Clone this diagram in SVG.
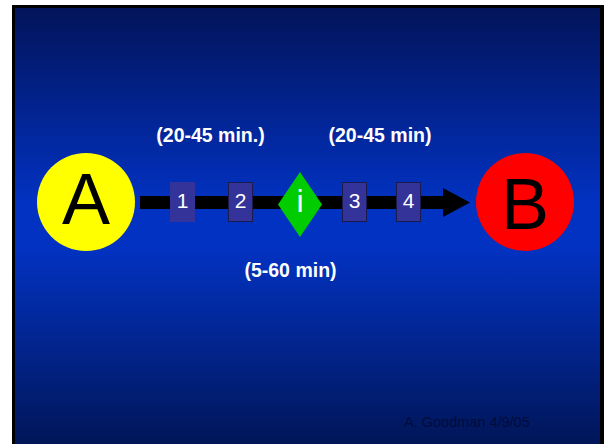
<svg xmlns="http://www.w3.org/2000/svg" width="604" height="444" viewBox="0 0 604 444">
<defs>
<linearGradient id="bg" x1="0" y1="0" x2="0" y2="1">
<stop offset="0" stop-color="#02145a"/>
<stop offset="0.45" stop-color="#0232c2"/>
<stop offset="0.55" stop-color="#0232c2"/>
<stop offset="1" stop-color="#011658"/>
</linearGradient>
<style>
.lbl{font-family:"Liberation Sans",Arial,sans-serif;font-weight:bold;font-size:19.5px;fill:#ffffff;text-anchor:middle}
.num{font-family:"Liberation Sans",Arial,sans-serif;font-size:21px;fill:#ffffff;text-anchor:middle}
.big{font-family:"Liberation Sans",Arial,sans-serif;font-size:72px;fill:#000000;text-anchor:middle}
.box{fill:#333399}
.boxb{fill:#333399;stroke:#1a1a4d;stroke-width:1}
</style>
</defs>
<rect x="0" y="0" width="604" height="444" fill="#ffffff"/>
<rect x="12" y="5" width="592" height="439" fill="#000000"/>
<rect x="15" y="8" width="585" height="436" fill="url(#bg)"/>
<g id="connectors">
<rect x="140" y="196" width="304" height="13" fill="#000000"/>
<polygon points="443,188 470,202.5 443,217" fill="#000000"/>
</g>
<g id="nodeA">
<circle cx="86" cy="202" r="49" fill="#ffff00"/>
<text class="big" x="86" y="224">A</text>
</g>
<g id="nodeB">
<circle cx="525" cy="202" r="49" fill="#ff0000"/>
<text class="big" x="525" y="229">B</text>
</g>
<g id="box1">
<rect class="box" x="170" y="182" width="25" height="40"/>
<text class="num" x="182.5" y="208">1</text>
</g>
<g id="box2">
<rect class="boxb" x="228.5" y="182.5" width="24" height="39"/>
<text class="num" x="240.5" y="208">2</text>
</g>
<g id="nodeI">
<polygon points="300,172 322,204.5 300,237 278,204.5" fill="#00cc00"/>
<text x="300" y="212" font-family="Liberation Sans, Arial, sans-serif" font-size="32" fill="#ffffff" text-anchor="middle">i</text>
</g>
<g id="box3">
<rect class="boxb" x="342.5" y="182.5" width="24" height="39"/>
<text class="num" x="354.5" y="208">3</text>
</g>
<g id="box4">
<rect class="boxb" x="396.5" y="182.5" width="24" height="39"/>
<text class="num" x="408.5" y="208">4</text>
</g>
<g id="labels">
<text class="lbl" x="210.5" y="142">(20-45 min.)</text>
<text class="lbl" x="380" y="142">(20-45 min)</text>
<text class="lbl" x="290.5" y="277">(5-60 min)</text>
</g>
<text x="404" y="427" font-family="Liberation Sans, Arial, sans-serif" font-size="14.5" fill="#000c3c">A. Goodman 4/9/05</text>
</svg>
